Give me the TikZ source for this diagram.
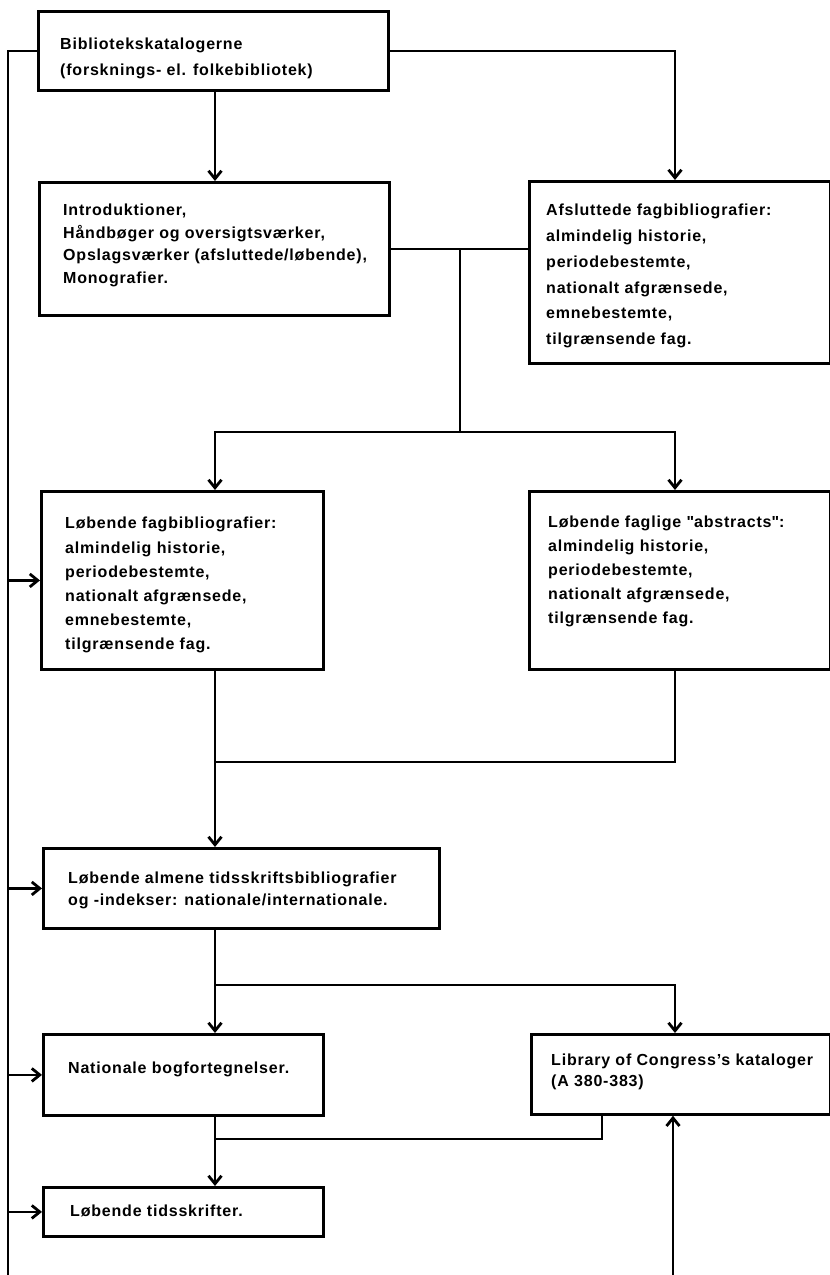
\documentclass[tikz,border=0pt]{standalone}
\usepackage{fontspec}
\setmainfont{Liberation Sans}[LetterSpace=5]
\usetikzlibrary{arrows.meta}

\tikzset{
  box/.style={draw, line width=2.8pt, anchor=north west, inner sep=0pt},
  txt/.style={anchor=north west, inner sep=0pt, align=left},
  link/.style={line width=2.8pt},
  arr/.style={link, -{Straight Barb[length=8pt,width=13pt]}}
}
\newcommand{\boxfont}[1]{\bfseries\fontsize{16}{#1}\selectfont}

\begin{document}
\begin{tikzpicture}[x=1pt, y=-1pt]
    \useasboundingbox (0,0) rectangle (830,1275);

    % Columns for the connectors
    \coordinate (spine) at (215,0);
    \coordinate (rcol) at (675,0);
    \coordinate (lcol) at (602,0);

    % Boxes
    \node[box, minimum width=350pt, minimum height=79pt] (kat) at (37,10) {};
    \node[box, minimum width=350pt, minimum height=133pt] (intro) at (38,181) {};
    \node[box, minimum width=301pt, minimum height=182pt] (afsl) at (528,180) {};
    \node[box, minimum width=282pt, minimum height=178pt] (lfag) at (40,490) {};
    \node[box, minimum width=301pt, minimum height=178pt] (abstr) at (528,490) {};
    \node[box, minimum width=396pt, minimum height=80pt] (almen) at (42,847) {};
    \node[box, minimum width=280pt, minimum height=81pt] (nat) at (42,1033) {};
    \node[box, minimum width=299pt, minimum height=80pt] (loc) at (530,1033) {};
    \node[box, minimum width=280pt, minimum height=49pt] (tids) at (42,1186) {};

    % Texts
    \node[txt, font=\boxfont{26}] (kat-t) at (60,38) {Bibliotekskatalogerne\\(forsknings- el. folkebibliotek)};
    \node[txt, font=\boxfont{22.5}] (intro-t) at (63,204) {Introduktioner,\\Håndbøger og oversigtsværker,\\Opslagsværker (afsluttede/løbende),\\Monografier.};
    \node[txt, font=\boxfont{25.8}] (afsl-t) at (546,204) {Afsluttede fagbibliografier:\\almindelig historie,\\periodebestemte,\\nationalt afgrænsede,\\emnebestemte,\\tilgrænsende fag.};
    \node[txt, font=\boxfont{24.2}] (lfag-t) at (65,517) {Løbende fagbibliografier:\\almindelig historie,\\periodebestemte,\\nationalt afgrænsede,\\emnebestemte,\\tilgrænsende fag.};
    \node[txt, font=\boxfont{24}] (abstr-t) at (548,516) {Løbende faglige \textquotedbl abstracts\textquotedbl:\\almindelig historie,\\periodebestemte,\\nationalt afgrænsede,\\tilgrænsende fag.};
    \node[txt, font=\boxfont{22}] (almen-t) at (68,872) {Løbende almene tidsskriftsbibliografier\\og -indekser: nationale/internationale.};
    \node[txt, font=\boxfont{22}] (nat-t) at (68,1062) {Nationale bogfortegnelser.};
    \node[txt, font=\boxfont{21}] (loc-t) at (551,1054) {Library of Congress’s kataloger\\(A 380-383)};
    \node[txt, font=\boxfont{22}] (tids-t) at (70,1205) {Løbende tidsskrifter.};

    % Rail on the left
    \coordinate (railend) at (8,1275);
    \draw[link] (kat.west) -| (railend);
    \draw[arr] (railend |- lfag.west) -- (lfag.west);
    \draw[arr] (railend |- almen.west) -- (almen.west);
    \draw[arr] (railend |- nat.west) -- (nat.west);
    \draw[arr] (railend |- tids.west) -- (tids.west);

    % From the catalogues
    \draw[arr] (kat.east) -| (rcol |- afsl.north);
    \draw[arr] (spine |- kat.south) -- (spine |- intro.north);
    \draw[link] (intro.east) -- (intro.east -| afsl.west);

    % Split to the running bibliographies
    \coordinate (split1) at (460,432);
    \draw[link] (split1 |- intro.east) -- (split1);
    \draw[arr] (split1) -| (spine |- lfag.north);
    \draw[arr] (split1) -| (rcol |- abstr.north);

    % Join to the periodical indexes
    \coordinate (join1) at (215,762);
    \draw[link] (spine |- lfag.south) -- (join1) -| (rcol |- abstr.south);
    \draw[arr] (join1) -- (spine |- almen.north);

    % Split to national lists and LoC
    \coordinate (split2) at (215,985);
    \draw[link] (spine |- almen.south) -- (split2);
    \draw[arr] (split2) -- (spine |- nat.north);
    \draw[arr] (split2) -| (rcol |- loc.north);

    % Join to the periodicals
    \coordinate (join2) at (215,1139);
    \draw[link] (spine |- nat.south) -- (join2) -| (lcol |- loc.south);
    \draw[arr] (join2) -- (spine |- tids.north);

    % Arrow up into LoC
    \coordinate (upend) at (673,1275);
    \draw[arr] (upend) -- (upend |- loc.south);

\end{tikzpicture}
\end{document}
